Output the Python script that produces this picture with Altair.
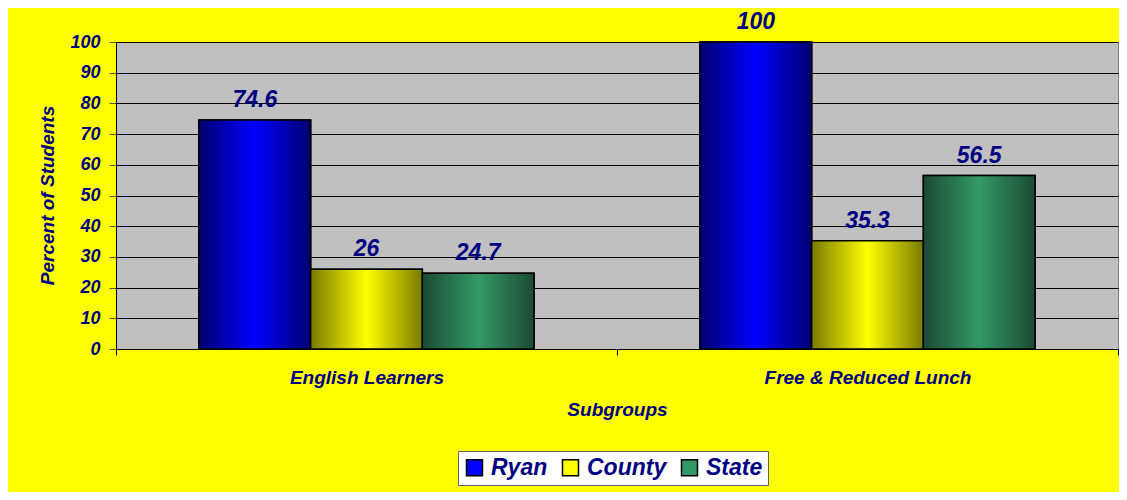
import altair as alt
import pandas as pd

groups = ["English Learners", "Free & Reduced Lunch"]
series = ["Ryan", "County", "State"]
ryan = [74.6, 100]
county = [26, 35.3]
state = [24.7, 56.5]

solid = ["#0000FF", "#FFFF00", "#339966"]
grads = {
    "Ryan": ("#000070", "#0000FF"),
    "County": ("#7A7A00", "#FFFF00"),
    "State": ("#1B4A33", "#339966"),
}

rows = []
for s, vals in zip(series, [ryan, county, state]):
    for g, v in zip(groups, vals):
        rows.append({"group": g, "series": s, "value": v, "label": f"{v:g}"})
df = pd.DataFrame(rows)

FONT = "Liberation Sans"
NAVY = "#000080"

x_enc = alt.X("group:N", sort=groups,
              scale=alt.Scale(paddingInner=0, paddingOuter=0),
              axis=alt.Axis(title="Subgroups", labelAngle=0, tickBand="extent",
                            domainColor="black", tickColor="black", tickSize=6,
                            labelPadding=13, labelLimit=0, labelFontSize=19,
                            titleY=60, titleBaseline="middle",
                            grid=False))
xo_enc = alt.XOffset("series:N", sort=series,
                     scale=alt.Scale(paddingInner=0, paddingOuter=0.743))
y_enc = alt.Y("value:Q", scale=alt.Scale(domain=[0, 100], nice=False),
              axis=alt.Axis(title="Percent of Students", values=list(range(0, 101, 10)),
                            gridColor="black", gridWidth=1, domainColor="black",
                            tickColor="#555555", tickSize=7, labelPadding=9,
                            labelFontSize=18,
                            titleX=-69, titleY=153, titleAngle=-90,
                            titleAlign="center", titleBaseline="middle"))

base = alt.Chart(df).encode(x=x_enc, xOffset=xo_enc, y=y_enc)

legend_bars = base.mark_bar(stroke="black", strokeWidth=1.5).encode(
    color=alt.Color("series:N", sort=series,
                    scale=alt.Scale(domain=series, range=solid),
                    legend=alt.Legend(title=None, orient="none", direction="horizontal",
                                      legendX=342, legendY=409,
                                      fillColor="white", strokeColor="#606060",
                                      padding=5, symbolType="square", symbolSize=256,
                                      symbolStrokeColor="black", symbolStrokeWidth=1.5,
                                      symbolOpacity=1,
                                      labelFont=FONT, labelFontSize=23,
                                      labelFontStyle="italic", labelFontWeight="bold",
                                      labelColor=NAVY, labelOffset=5,
                                      columnPadding=11))
)

layers = [legend_bars]
for s in series:
    dark, bright = grads[s]
    layers.append(
        base.transform_filter(alt.datum.series == s).mark_bar(
            stroke="black", strokeWidth=1.5,
            fill=alt.Gradient(gradient="linear",
                              stops=[alt.GradientStop(color=dark, offset=0),
                                     alt.GradientStop(color=bright, offset=0.5),
                                     alt.GradientStop(color=dark, offset=1)],
                              x1=0, x2=1, y1=0, y2=0))
    )

text = base.mark_text(font=FONT, fontSize=23, fontStyle="italic", fontWeight="bold",
                      color=NAVY, baseline="alphabetic", dy=-13).encode(text="label:N")
layers.append(text)

chart = alt.layer(*layers).properties(
    width=1002, height=307,
    autosize=alt.AutoSizeParams(type="none"),
    padding={"left": 108, "top": 34, "right": 1, "bottom": 143},
    background="#FFFF00",
).configure_view(
    fill="#C0C0C0", stroke="#808080", strokeWidth=1
).configure_axis(
    labelFont=FONT, labelFontStyle="italic", labelFontWeight="bold",
    labelColor=NAVY, titleFont=FONT, titleFontSize=19, titleFontStyle="italic",
    titleFontWeight="bold", titleColor=NAVY
)

chart.save("out.html", embed_options={"renderer": "svg", "actions": False})
